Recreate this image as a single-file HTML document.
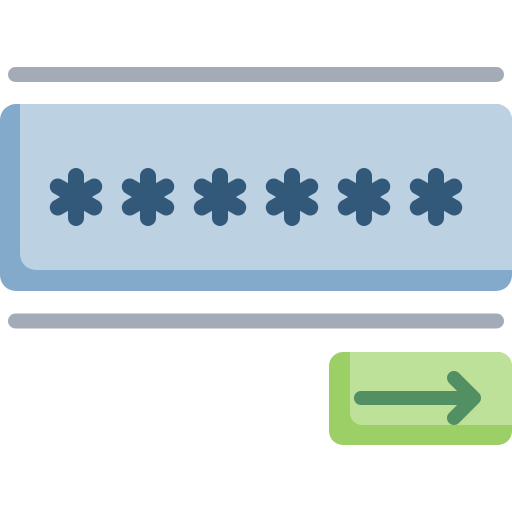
<!DOCTYPE html>
<html><head><style>html,body{margin:0;padding:0;background:#fff}</style></head>
<body>
<svg width="512" height="512" viewBox="0 0 512 512" xmlns="http://www.w3.org/2000/svg">
<line x1="15.5" y1="74.5" x2="496.5" y2="74.5" stroke="#a4abb8" stroke-width="15" stroke-linecap="round"/>
<line x1="15.5" y1="321" x2="496.5" y2="321" stroke="#a4abb8" stroke-width="15" stroke-linecap="round"/>
<rect x="0" y="104" width="512" height="187" rx="16" fill="#84aacb"/>
<path d="M20 104 H496 A16 16 0 0 1 512 120 V270 H36 A16 16 0 0 1 20 254 Z" fill="#bcd1e2"/>
<g stroke="#33597a" stroke-width="16" stroke-linecap="round">
<g id="a" transform="translate(76,197)">
<line x1="0" y1="-21" x2="0" y2="21"/>
<line x1="-18.2" y1="-10.5" x2="18.2" y2="10.5"/>
<line x1="-18.2" y1="10.5" x2="18.2" y2="-10.5"/>
</g>
<use href="#a" x="72"/><use href="#a" x="144"/><use href="#a" x="216"/><use href="#a" x="288"/><use href="#a" x="360"/>
</g>
<rect x="329" y="352" width="183" height="93" rx="14" fill="#9ccf65"/>
<path d="M350 352 H498 A14 14 0 0 1 512 366 V425 H362 A12 12 0 0 1 350 413 Z" fill="#bde198"/>
<g stroke="#528f63" stroke-width="14" stroke-linecap="round" stroke-linejoin="round" fill="none">
<line x1="361" y1="398" x2="473" y2="398"/>
<polyline points="454,378 474,398 454,418"/>
</g>
</svg>
</body></html>
